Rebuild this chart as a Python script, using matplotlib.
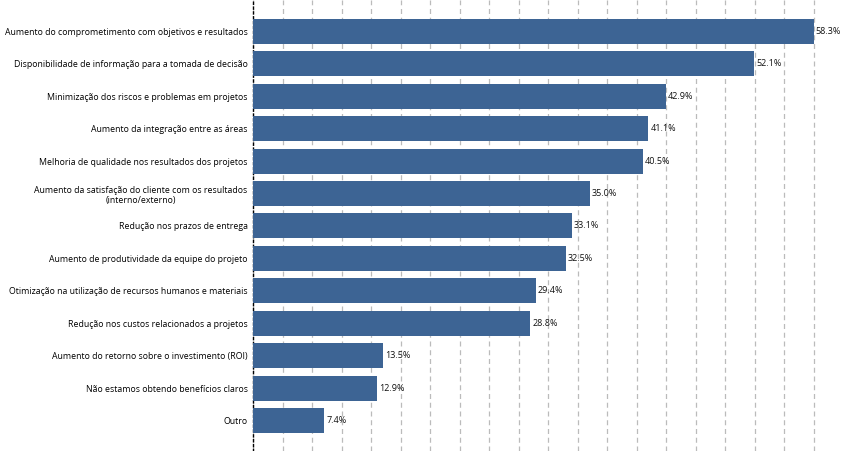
import numpy as np
import matplotlib.pyplot as plt

plt.rcParams['font.family'] = ['Open Sans', 'DejaVu Sans']

labels = [
    "Aumento do comprometimento com objetivos e resultados",
    "Disponibilidade de informação para a tomada de decisão",
    "Minimização dos riscos e problemas em projetos",
    "Aumento da integração entre as áreas",
    "Melhoria de qualidade nos resultados dos projetos",
    "Aumento da satisfação do cliente com os resultados\n(interno/externo)",
    "Redução nos prazos de entrega",
    "Aumento de produtividade da equipe do projeto",
    "Otimização na utilização de recursos humanos e materiais",
    "Redução nos custos relacionados a projetos",
    "Aumento do retorno sobre o investimento (ROI)",
    "Não estamos obtendo benefícios claros",
    "Outro",
]
values = [58.3, 52.1, 42.9, 41.1, 40.5, 35.0, 33.1, 32.5, 29.4, 28.8, 13.5, 12.9, 7.4]

fig = plt.figure(figsize=(8.48, 4.51), dpi=100)
ax = fig.add_axes([0.2987, 0.0, 0.7013, 1.0])

y = np.arange(len(values))
ax.barh(y, values, height=0.77, color="#3d6494", zorder=2)

for yi, v in zip(y, values):
    ax.text(v + 0.2, yi, f"{v:.1f}%", va="center", ha="left", fontsize=6.5, color="#111111")

ax.set_yticks(y)
ax.set_yticklabels(labels, fontsize=6.3, ha="right", multialignment="center")
ax.tick_params(axis="y", length=0, pad=4)
ax.set_xticks(np.linspace(0, 58.3, 20))
ax.tick_params(axis="x", length=0, labelbottom=False)
ax.set_xlim(0, 61.85)
ax.set_ylim(len(values) - 1 + 0.93, -0.96)

ax.grid(axis="x", color="#bbbbbb", linestyle=(0, (4, 3)), linewidth=0.9, zorder=0)
ax.set_axisbelow(True)
for s in ["top", "right", "bottom"]:
    ax.spines[s].set_visible(False)
ax.spines["left"].set_linestyle((0, (1.5, 2)))
ax.spines["left"].set_linewidth(1.0)
ax.spines["left"].set_zorder(1)

fig.savefig("out.png", dpi=100)
